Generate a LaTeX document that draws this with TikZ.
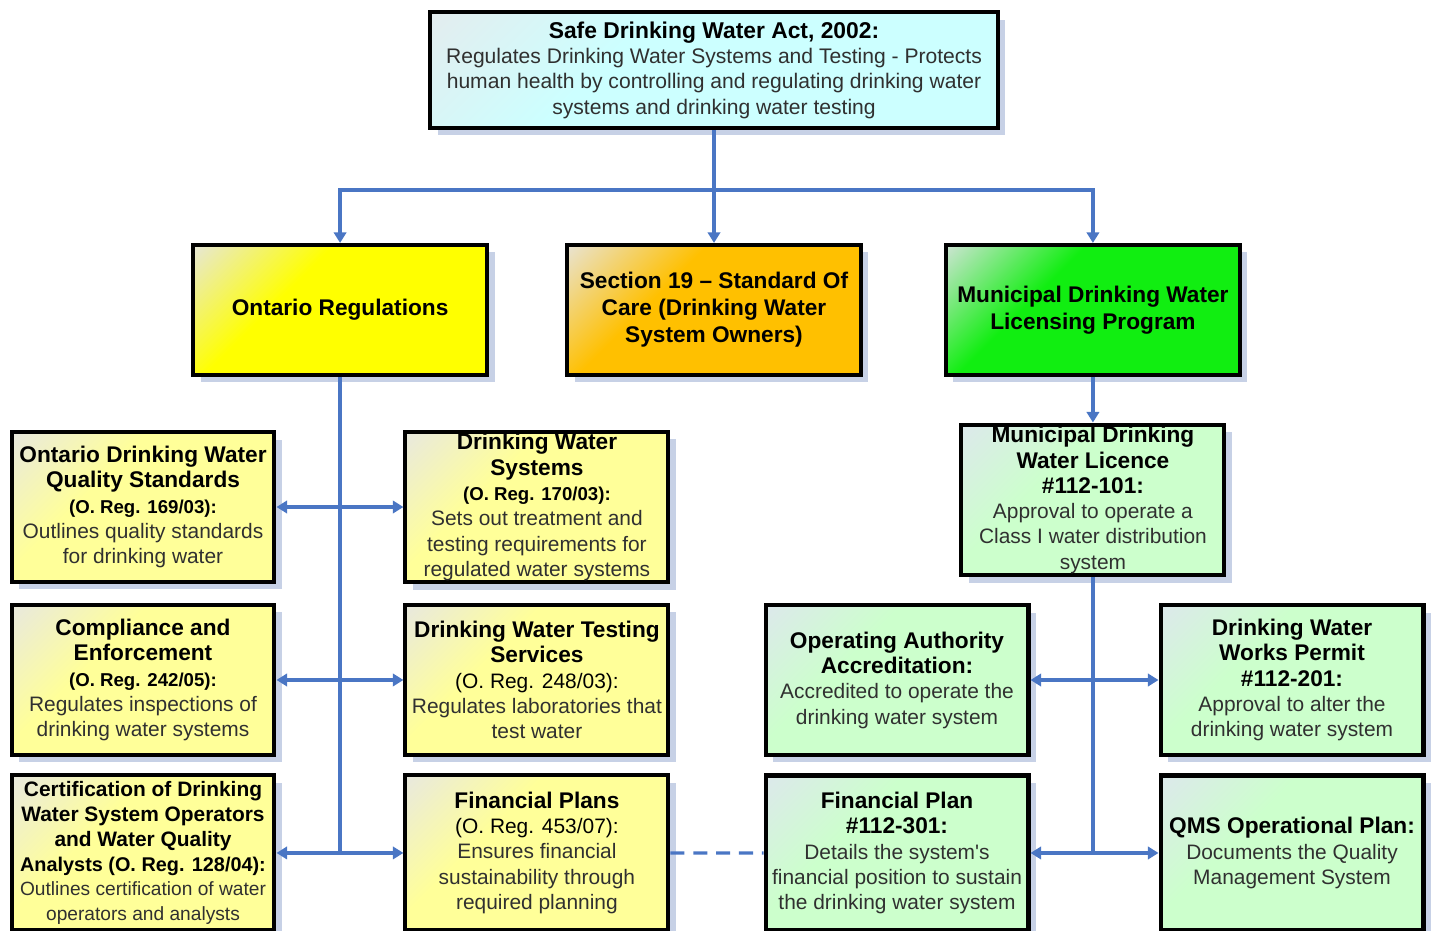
\documentclass[tikz,border=0pt]{standalone}
\usepackage{fontspec}
\setmainfont{Liberation Sans}
\usepackage{xcolor}
\usetikzlibrary{arrows.meta, shadows}

\definecolor{linkblue}{HTML}{4A76C4}
\definecolor{shadowblue}{HTML}{B4C2DE}
\definecolor{bodygray}{HTML}{303030}
\definecolor{cyanmain}{HTML}{CCFFFF}
\definecolor{cyancorner}{HTML}{E4ECEE}
\definecolor{yelmain}{HTML}{FFFF00}
\definecolor{yelcorner}{HTML}{E6E6DC}
\definecolor{orgmain}{HTML}{FFC000}
\definecolor{orgcorner}{HTML}{E8E4D8}
\definecolor{grnmain}{HTML}{11EE11}
\definecolor{grncorner}{HTML}{D2E4D8}
\definecolor{paleyel}{HTML}{FFFF99}
\definecolor{paleyelcorner}{HTML}{E8E8E0}
\definecolor{palegrn}{HTML}{CCFFCC}
\definecolor{palegrncorner}{HTML}{DDE8EC}

\pgfdeclareverticalshading{cyanshade}{100bp}{color(0bp)=(cyanmain); color(62bp)=(cyanmain); color(86bp)=(cyancorner); color(100bp)=(cyancorner)}
\pgfdeclareverticalshading{yelshade}{100bp}{color(0bp)=(yelmain); color(62bp)=(yelmain); color(86bp)=(yelcorner); color(100bp)=(yelcorner)}
\pgfdeclareverticalshading{orgshade}{100bp}{color(0bp)=(orgmain); color(62bp)=(orgmain); color(86bp)=(orgcorner); color(100bp)=(orgcorner)}
\pgfdeclareverticalshading{grnshade}{100bp}{color(0bp)=(grnmain); color(62bp)=(grnmain); color(86bp)=(grncorner); color(100bp)=(grncorner)}
\pgfdeclareverticalshading{paleyelshade}{100bp}{color(0bp)=(paleyel); color(62bp)=(paleyel); color(86bp)=(paleyelcorner); color(100bp)=(paleyelcorner)}
\pgfdeclareverticalshading{palegrnshade}{100bp}{color(0bp)=(palegrn); color(62bp)=(palegrn); color(86bp)=(palegrncorner); color(100bp)=(palegrncorner)}

\newcommand{\hd}[1]{\textcolor{black}{\bfseries\fontsize{12.9}{14.4}\selectfont #1}}
\newcommand{\hdreg}[1]{\textcolor{black}{\bfseries\fontsize{10.6}{14.4}\selectfont #1}}
\newcommand{\rg}[1]{\textcolor{black}{#1}}

\begin{document}
\begin{tikzpicture}[
	x=0.02cm, y=-0.02cm,
	node distance=3.46cm,
	box/.style={draw=black, line width=2.3pt, align=center, inner sep=1pt,
		text=bodygray, font=\fontsize{11.9}{14.4}\selectfont,
		shade, shading angle=45,
		drop shadow={shadow xshift=0.15cm, shadow yshift=-0.15cm, fill=shadowblue, opacity=0.75}},
	topbox/.style={box, shading=cyanshade, minimum width=11.36cm, minimum height=2.32cm},
	mainbox/.style={box, minimum width=5.88cm, minimum height=2.6cm,
		text=black, font=\bfseries\fontsize{12.9}{15.4}\selectfont},
	yelbox/.style={mainbox, shading=yelshade},
	orgbox/.style={mainbox, shading=orgshade},
	grnbox/.style={mainbox, shading=grnshade},
	regbox/.style={box, shading=paleyelshade, minimum width=5.26cm, minimum height=3.0cm},
	licbox/.style={box, shading=palegrnshade, minimum width=5.26cm, minimum height=3.0cm},
	line/.style={draw=linkblue, line width=1.8pt},
	edge/.style={line, -{Triangle[width=7pt, length=6pt]}},
	dedge/.style={line, {Triangle[width=7pt, length=6pt]}-{Triangle[width=7pt, length=6pt]}}
	]
	\useasboundingbox (0,0) rectangle (1432,930);
	
	% Define nodes
	\node (act) [topbox, font=\fontsize{12}{14.4}\selectfont] at (714,70) {\hd{\fontsize{13}{14.4}\selectfont Safe Drinking Water Act, 2002:}\\
		Regulates Drinking Water Systems and Testing - Protects\\
		human health by controlling and regulating drinking water\\
		systems and drinking water testing};
	\node (s19) [orgbox, node distance=4.8cm, below of=act] {Section 19 -- Standard Of\\ Care (Drinking Water\\ System Owners)};
	\node (regs) [yelbox, node distance=7.48cm, left of=s19] {Ontario Regulations};
	\node (licprog) [grnbox, node distance=7.58cm, right of=s19] {Municipal Drinking Water\\ Licensing Program};
	
	% Ontario Regulations branch
	\node (odwqs) [regbox] at (143,507) {\hd{Ontario Drinking Water}\\ \hd{Quality Standards}\\ \hdreg{(O. Reg. 169/03):}\\
		Outlines quality standards\\ for drinking water};
	\node (comp) [regbox, below of=odwqs] {\hd{Compliance and}\\ \hd{Enforcement}\\ \hdreg{(O. Reg. 242/05):}\\
		Regulates inspections of\\ drinking water systems};
	\node (cert) [regbox, minimum height=3.1cm, font=\fontsize{10.9}{14.2}\selectfont, below of=comp] {\hd{\fontsize{11.9}{14.2}\selectfont Certification of Drinking}\\
		\hd{\fontsize{11.9}{14.2}\selectfont Water System Operators}\\ \hd{\fontsize{11.9}{14.2}\selectfont and Water Quality}\\
		\hd{\fontsize{11.3}{14.2}\selectfont Analysts (O. Reg. 128/04):}\\ Outlines certification of water\\ operators and analysts};
	\node (dws) [regbox, node distance=7.88cm, right of=odwqs] {\hd{Drinking Water}\\ \hd{Systems}\\ \hdreg{(O. Reg. 170/03):}\\
		Sets out treatment and\\ testing requirements for\\ regulated water systems};
	\node (dwts) [regbox, node distance=7.88cm, right of=comp] {\hd{Drinking Water Testing}\\ \hd{Services}\\ \rg{(O. Reg. 248/03):}\\
		Regulates laboratories that\\ test water};
	\node (finplans) [regbox, minimum height=3.1cm, node distance=7.88cm, right of=cert] {\hd{Financial Plans}\\ \rg{(O. Reg. 453/07):}\\
		Ensures financial\\ sustainability through\\ required planning};
	
	% Licensing branch
	\node (licence) [licbox, node distance=3.8cm, below of=licprog] {\hd{Municipal Drinking}\\ \hd{Water Licence}\\ \hd{\#112-101:}\\
		Approval to operate a\\ Class I water distribution\\ system};
	\node (opauth) [licbox] at (897,680) {\hd{Operating Authority}\\ \hd{Accreditation:}\\
		Accredited to operate the\\ drinking water system};
	\node (permit) [licbox] at (1292,680) {\hd{Drinking Water}\\ \hd{Works Permit}\\ \hd{\#112-201:}\\
		Approval to alter the\\ drinking water system};
	\node (finplan) [licbox, minimum height=3.1cm, below of=opauth] {\hd{Financial Plan}\\ \hd{\#112-301:}\\
		Details the system\textquotesingle s\\ financial position to sustain\\ the drinking water system};
	\node (qms) [licbox, minimum height=3.1cm, below of=permit] {\hd{QMS Operational Plan:}\\
		Documents the Quality\\ Management System};
	
	% Draw edges
	\path [edge] (act.south) -- (s19.north);
	\path [edge] (act.south) -- ++(0,60) -| (regs.north);
	\path [edge] (act.south) -- ++(0,60) -| (licprog.north);
	\path [line] (regs.south) -- (regs.south |- cert.east);
	\path [dedge] (odwqs.east) -- (dws.west);
	\path [dedge] (comp.east) -- (dwts.west);
	\path [dedge] (cert.east) -- (finplans.west);
	\path [line, dash pattern=on 8pt off 5pt] (finplans.east) -- (finplan.west);
	\path [edge] (licprog.south) -- (licence.north);
	\path [line] (licence.south) -- (licence.south |- qms.west);
	\path [dedge] (opauth.east) -- (permit.west);
	\path [dedge] (finplan.east) -- (qms.west);
	
\end{tikzpicture}
\end{document}
